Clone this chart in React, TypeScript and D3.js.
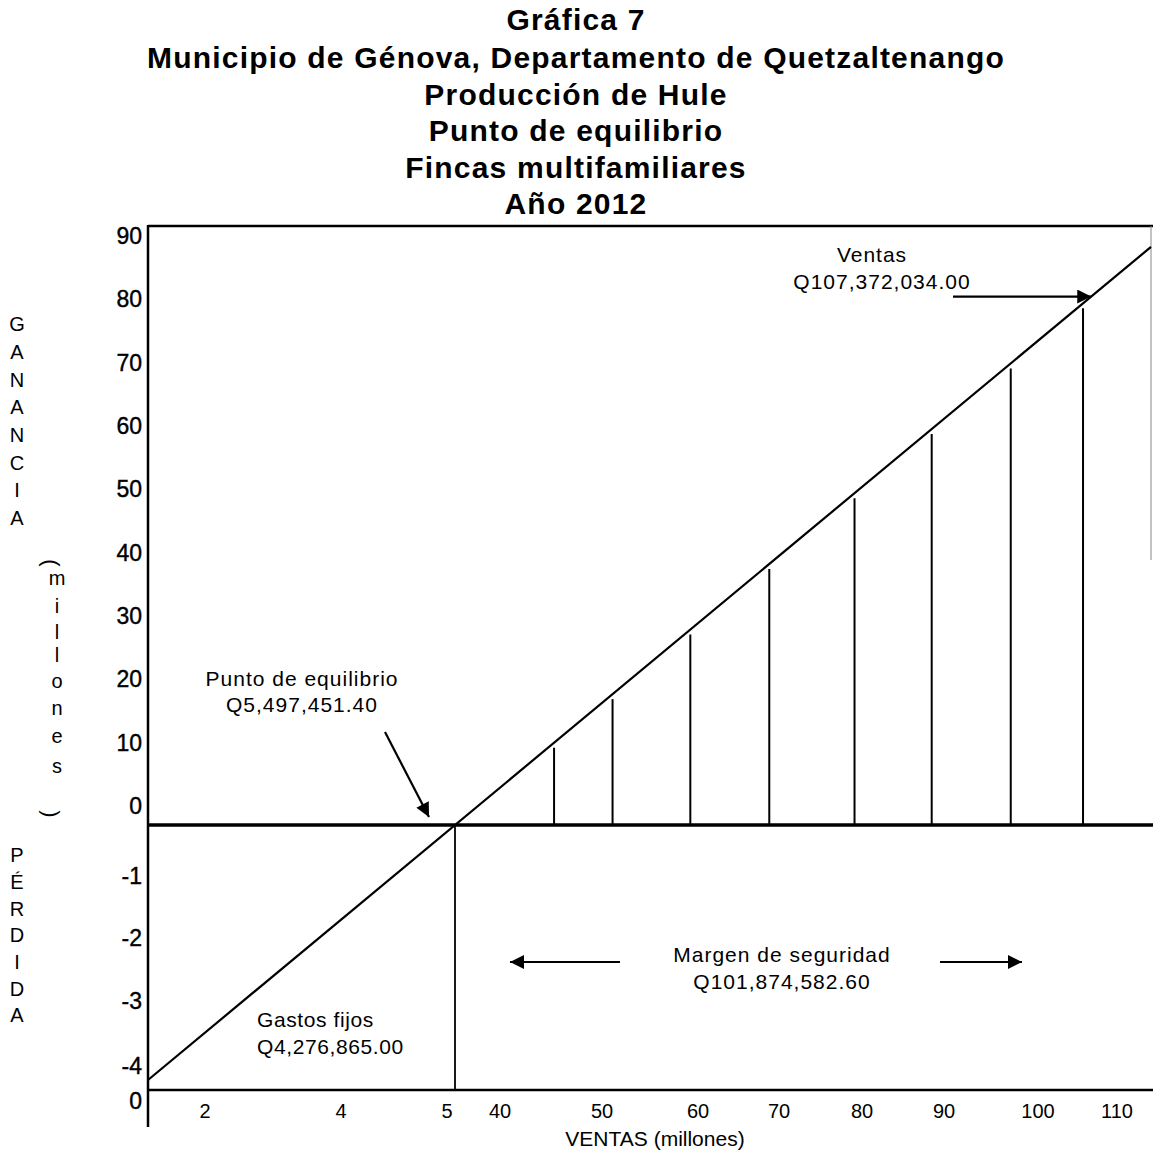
import * as d3 from 'd3';
import React from 'react';

// Valores del gráfico (millones de quetzales)
const titleLines = [
  'Gráfica 7',
  'Municipio de Génova, Departamento de Quetzaltenango',
  'Producción de Hule',
  'Punto de equilibrio',
  'Fincas multifamiliares',
  'Año 2012',
];
const yTicksPos = [90, 80, 70, 60, 50, 40, 30, 20, 10, 0];
const yTicksNeg = [-1, -2, -3, -4];
const xTicks = [2, 4, 5, 40, 50, 60, 70, 80, 90, 100, 110];
const gastosFijos = 4.276865;
const puntoEquilibrio = 5.4974514;
const ventas = 107.372034;
// ventas (eje x) donde caen las líneas verticales del margen
const dropSales = [45.3, 51.1, 59.2, 68.8, 79.1, 88.5, 97.1, 105.7];

const W = 1153;
const H = 1158;
const left = 148;
const right = 1151;
const top = 226;
const bottom = 1090;
const font = '"Liberation Sans", Arial, sans-serif';

// eje x dibujado a mano: tramos distintos
const x = d3.scaleLinear()
  .domain([0, 2, 4, 5, puntoEquilibrio, 40, 50, 60, 70, 80, 90, 100, 110])
  .range([left, 205, 341, 447, 455, 500, 602, 698, 779, 862, 944, 1038, 1117]);

const y = d3.scaleLinear()
  .domain([-gastosFijos, -4, -3, -2, -1, 0, 90])
  .range([1080, 1072, 1007, 944, 882, 825, 255]);

export default function App() {
  const x0 = x(0), y0 = y(-gastosFijos);
  const xe = x(puntoEquilibrio), ye = y(0);
  const slope = (ye - y0) / (xe - x0);
  const lineY = (px: number) => y0 + (px - x0) * slope;

  const tipV = x(ventas) - 5;
  const arrowVY = lineY(tipV);

  const side = (txt: string, i: number, start: number, step: number) => (
    <text key={txt + i} x={17} y={start + i * step} textAnchor="middle"
      dominantBaseline="middle" fontSize={20}>{txt}</text>
  );
  const mill = ['m', 'i', 'l', 'l', 'o', 'n', 'e', 's'];
  const millY = [580, 608, 634, 657, 683, 710, 738, 768];
  const titleY = [22, 60, 97, 133, 170, 206];

  return (
    <svg width={W} height={H} style={{ position: 'absolute', left: 0, top: 0, background: '#fff' }}
      fontFamily={font}>
      <defs>
        <marker id="ah" viewBox="0 0 10 10" refX="10" refY="5" markerWidth="15" markerHeight="14"
          markerUnits="userSpaceOnUse" orient="auto">
          <path d="M0,0 L10,5 L0,10 Z" fill="#000" />
        </marker>
      </defs>

      {titleLines.map((t, i) => (
        <text key={t} x={576} y={titleY[i]} textAnchor="middle" dominantBaseline="middle"
          fontSize={30} letterSpacing={1.2} fontWeight="bold">{t}</text>
      ))}

      {/* marco */}
      <line x1={left} x2={W} y1={top} y2={top} stroke="#000" strokeWidth={2.5} />
      <line x1={right} x2={right} y1={top} y2={560} stroke="#888" strokeWidth={1} />
      <line x1={left} x2={left} y1={top - 1} y2={1127} stroke="#000" strokeWidth={2.5} />
      <line x1={left} x2={W} y1={bottom} y2={bottom} stroke="#000" strokeWidth={2.5} />
      <line x1={left} x2={W} y1={y(0)} y2={y(0)} stroke="#000" strokeWidth={3.5} />

      {/* etiquetas eje y */}
      <g fontSize={23} stroke="#000" strokeWidth={0.4}>
        {yTicksPos.map(v => (
          <text key={'p' + v} x={142} y={y(v) - 17} textAnchor="end" dominantBaseline="middle">{v}</text>
        ))}
        {yTicksNeg.map(v => (
          <text key={'n' + v} x={142} y={y(v) - 4} textAnchor="end" dominantBaseline="middle">{v}</text>
        ))}
        <text x={142} y={bottom + 13} textAnchor="end" dominantBaseline="middle">0</text>
      </g>

      {/* etiquetas eje x */}
      {xTicks.map(v => (
        <text key={'x' + v} x={x(v)} y={1113} textAnchor="middle" dominantBaseline="middle"
          fontSize={20}>{v}</text>
      ))}
      <text x={655} y={1140} textAnchor="middle" dominantBaseline="middle" fontSize={21}>VENTAS (millones)</text>

      {/* titulo vertical */}
      {'GANANCIA'.split('').map((c, i) => side(c, i, 326, 27.7))}
      {'PÉRDIDA'.split('').map((c, i) => side(c, i, 857, 26.7))}
      <text transform="translate(50,563) rotate(90)" textAnchor="middle" dominantBaseline="middle"
        fontSize={22}>(</text>
      {mill.map((c, i) => (
        <text key={'m' + i} x={57} y={millY[i]} textAnchor="middle" dominantBaseline="middle"
          fontSize={20}>{c}</text>
      ))}
      <text transform="translate(50,814) rotate(90)" textAnchor="middle" dominantBaseline="middle"
        fontSize={22}>)</text>

      {/* linea de ventas */}
      <line x1={x0} y1={y0} x2={right} y2={lineY(right)} stroke="#000" strokeWidth={2.2} />

      {/* punto de equilibrio */}
      <line x1={xe} x2={xe} y1={y(0)} y2={bottom} stroke="#000" strokeWidth={1.8} />
      {dropSales.map(v => (
        <line key={'d' + v} x1={x(v)} x2={x(v)} y1={lineY(x(v)) + 5} y2={y(0)}
          stroke="#000" strokeWidth={2} />
      ))}

      {/* anotaciones */}
      <g fontSize={21} letterSpacing={1} textAnchor="middle">
        <text x={302} y={680} dominantBaseline="middle">Punto de equilibrio</text>
        <text x={302} y={706} dominantBaseline="middle">Q5,497,451.40</text>
        <text x={872} y={256} dominantBaseline="middle">Ventas</text>
        <text x={882} y={283} dominantBaseline="middle">Q107,372,034.00</text>
        <text x={782} y={956} dominantBaseline="middle">Margen de seguridad</text>
        <text x={782} y={983} dominantBaseline="middle">Q101,874,582.60</text>
      </g>
      <g fontSize={21} letterSpacing={0.6}>
        <text x={257} y={1021} dominantBaseline="middle">Gastos fijos</text>
        <text x={257} y={1048} dominantBaseline="middle">Q4,276,865.00</text>
      </g>

      <line x1={xe - 70} y1={ye - 93} x2={xe - 26} y2={ye - 8} stroke="#000" strokeWidth={2.2}
        markerEnd="url(#ah)" />
      <line x1={953} y1={arrowVY} x2={tipV} y2={arrowVY} stroke="#000" strokeWidth={2.2}
        markerEnd="url(#ah)" />
      <line x1={620} y1={962} x2={510} y2={962} stroke="#000" strokeWidth={2.2} markerEnd="url(#ah)" />
      <line x1={940} y1={962} x2={1022} y2={962} stroke="#000" strokeWidth={2.2} markerEnd="url(#ah)" />
    </svg>
  );
}
